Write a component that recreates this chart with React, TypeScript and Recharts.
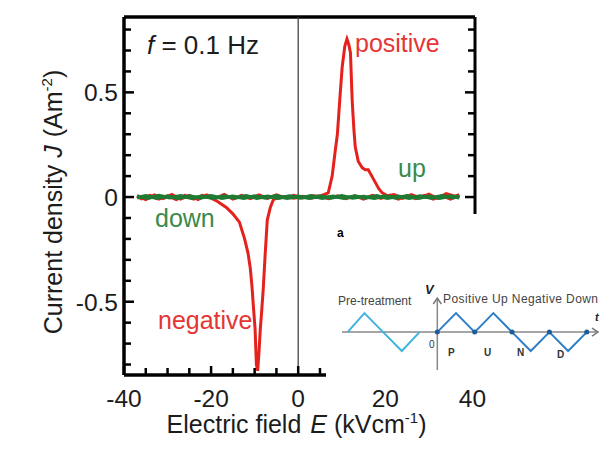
import { Line, LineChart, ReferenceDot, ReferenceLine, XAxis, YAxis } from 'recharts'

// E (kV/cm), J (A/m^2)
const positiveSweep: [number, number][] = [
  [-37, 0.005], [-35, -0.012], [-33, 0.01], [-31, -0.008], [-29, 0.012], [-27, -0.01],
  [-25, 0.008], [-23, -0.012], [-21, 0.01], [-19, -0.006], [-17, 0.012], [-15, -0.01],
  [-13, 0.008], [-11, -0.008], [-9, 0.01], [-7, -0.006], [-5, 0.01], [-3, -0.004],
  [-1, 0.008], [1, -0.004], [3, 0.006], [5, 0.004], [6.9, 0.02], [7.8, 0.1], [8.5, 0.22],
  [9.0, 0.3], [9.6, 0.48], [10.1, 0.62], [10.7, 0.72], [11.2, 0.755], [11.6, 0.73],
  [12.0, 0.69], [12.4, 0.46], [12.8, 0.32], [13.1, 0.24], [13.8, 0.17], [14.7, 0.14],
  [15.4, 0.13], [16.1, 0.13], [16.9, 0.1], [17.7, 0.07], [18.5, 0.04], [19.3, 0.02],
  [20.5, 0.006], [22, 0.012], [24, -0.006], [26, 0.012], [28, -0.004], [30, 0.014],
  [32, -0.006], [34, 0.016], [36, 0.004], [37, 0.012],
]

const negativeSweep: [number, number][] = [
  [37, 0.008], [35, -0.01], [33, 0.006], [31, -0.01], [29, 0.008], [27, -0.008],
  [25, 0.006], [23, -0.01], [21, 0.008], [19, -0.006], [17, 0.008], [15, -0.01],
  [13, 0.006], [11, -0.008], [9, 0.006], [7, -0.008], [5, 0.004], [3, -0.006],
  [1, 0.004], [-1, -0.006], [-3, 0.002], [-5, -0.006], [-5.7, -0.012], [-6.4, -0.05],
  [-7.1, -0.11], [-7.6, -0.28], [-8.0, -0.43], [-8.4, -0.55], [-8.7, -0.63], [-9.0, -0.74],
  [-9.3, -0.83], [-9.6, -0.8], [-9.9, -0.63], [-10.3, -0.52], [-10.6, -0.43], [-11.0, -0.34],
  [-11.5, -0.27], [-12.3, -0.2], [-13.5, -0.12], [-15, -0.08], [-16.5, -0.05], [-18.6, -0.02],
  [-20, -0.005], [-22, 0.008], [-24, -0.01], [-26, 0.008], [-28, -0.012], [-30, 0.006],
  [-32, -0.01], [-34, 0.008], [-36, -0.008], [-37, 0.004],
]

const upSweep: [number, number][] = [
  [-37, 0.004], [-34.5, -0.006], [-32, 0.007], [-29.5, -0.003], [-27, 0.006], [-24.5, -0.005],
  [-22, 0.004], [-19.5, -0.006], [-17, 0.005], [-14.5, -0.004], [-12, 0.006], [-9.5, -0.005],
  [-7, 0.004], [-4.5, -0.006], [-2, 0.005], [0.5, -0.004], [3, 0.006], [5.5, -0.005],
  [8, 0.004], [10.5, -0.006], [13, 0.005], [15.5, -0.004], [18, 0.006], [20.5, -0.005],
  [23, 0.004], [25.5, -0.006], [28, 0.005], [30.5, -0.004], [33, 0.006], [35.5, -0.003],
  [37, 0.004],
]

const downSweep: [number, number][] = [
  [37, -0.003], [35, 0.005], [32.5, -0.006], [30, 0.004], [27.5, -0.005], [25, 0.006],
  [22.5, -0.004], [20, 0.005], [17.5, -0.006], [15, 0.003], [12.5, -0.005], [10, 0.006],
  [7.5, -0.004], [5, 0.005], [2.5, -0.006], [0, 0.004], [-2.5, -0.005], [-5, 0.006],
  [-7.5, -0.004], [-10, 0.005], [-12.5, -0.006], [-15, 0.004], [-17.5, -0.005], [-20, 0.006],
  [-22.5, -0.004], [-25, 0.005], [-27.5, -0.006], [-30, 0.004], [-32.5, -0.005], [-35, 0.006],
  [-37, -0.003],
]

const X_TICKS = [-40, -35, -30, -25, -20, -15, -10, -5, 0, 5, 10, 15, 20, 25, 30, 35, 40]
const X_LABELS = [-40, -20, 0, 20, 40]
const Y_TICKS = [-0.8, -0.7, -0.6, -0.5, -0.4, -0.3, -0.2, -0.1, 0, 0.1, 0.2, 0.3, 0.4, 0.5, 0.6, 0.7, 0.8]
const Y_LABELS = [-0.5, 0, 0.5]

// inset waveform: t in quarter periods, V in amplitudes
const preTreatment: [number, number][] = [[-4.8, 0], [-3.9, 1], [-2.9, 0], [-1.9, -1], [-0.95, 0]]
const pund: [number, number][] = [[0, 0], [1, 1], [2, 0], [3, 1], [4, 0], [5, -1], [6, 0], [7, -1], [8, 0]]

const X_DOMAIN: [number, number] = [-40, 40.6]
const Y_DOMAIN: [number, number] = [-0.85, 0.86]
const T_DOMAIN: [number, number] = [-5.1, 8.6]
const V_DOMAIN: [number, number] = [-2, 1.8]

const FONT = '"Liberation Sans", Arial, sans-serif'
const INK = '#1c1c1c'
const RED = '#e5211d'
const GREEN = '#1f7a34'

const toRows = (pts: [number, number][]) => pts.map(([E, J]) => ({ E, J }))
const toWave = (pts: [number, number][]) => pts.map(([t, v]) => ({ t, v }))

function BottomTick({ x, y, payload }: any) {
  const labelled = X_LABELS.includes(payload.value)
  return (
    <g>
      <line x1={x} x2={x} y1={y} y2={y - (labelled ? 9 : 7)} stroke="#000" strokeWidth={2.5} />
      {labelled && (
        <text x={x} y={y + 32} textAnchor="middle" fontSize={24.5} fontFamily={FONT} fill={INK}>
          {payload.value}
        </text>
      )}
    </g>
  )
}

function LeftTick({ x, y, payload }: any) {
  const labelled = Y_LABELS.includes(payload.value)
  return (
    <g>
      <line x1={x} x2={x + (labelled ? 10 : 7)} y1={y} y2={y} stroke="#000" strokeWidth={2.5} />
      {labelled && (
        <text x={x - 6} y={y + 9} textAnchor="end" fontSize={24.5} fontFamily={FONT} fill={INK}>
          {payload.value}
        </text>
      )}
    </g>
  )
}

function RightTick({ x, y, payload }: any) {
  const major = Y_LABELS.includes(payload.value)
  return <line x1={x} x2={x - (major ? 10 : 7)} y1={y} y2={y} stroke="#000" strokeWidth={2.5} />
}

function XTitle({ viewBox }: any) {
  return (
    <text x={viewBox.x + viewBox.width / 2 - 3} y={viewBox.y + 58} textAnchor="middle" fontSize={25} fontFamily={FONT} fill={INK}>
      Electric field
      <tspan dx={9} fontStyle="italic">E</tspan>
      <tspan> (kVcm</tspan>
      <tspan dy={-10} fontSize={15}>-1</tspan>
      <tspan dy={10}>)</tspan>
    </text>
  )
}

function YTitle({ viewBox }: any) {
  const cx = viewBox.x - 2
  const cy = viewBox.y + viewBox.height / 2 + 6
  return (
    <text x={cx} y={cy} transform={`rotate(-90, ${cx}, ${cy})`} textAnchor="middle" fontSize={25} fontFamily={FONT} fill={INK}>
      Current density
      <tspan dx={7} fontStyle="italic">J</tspan>
      <tspan dx={8}>(Am</tspan>
      <tspan dy={-10} fontSize={15}>-2</tspan>
      <tspan dy={10}>)</tspan>
    </text>
  )
}

const labelStyle = (left: number, top: number, color: string, size = 25): React.CSSProperties => ({
  position: 'absolute',
  left,
  top,
  color,
  fontSize: size,
  fontFamily: FONT,
  lineHeight: 1,
  whiteSpace: 'nowrap',
})

function ArrowRight({ cx, cy }: any) {
  return <path d={`M${cx - 6},${cy - 4} L${cx},${cy} L${cx - 6},${cy + 4}`} fill="none" stroke="#777" strokeWidth={1.5} />
}

function ArrowUp({ cx, cy }: any) {
  return <path d={`M${cx - 4},${cy + 6} L${cx},${cy} L${cx + 4},${cy + 6}`} fill="none" stroke="#777" strokeWidth={1.5} />
}

function Inset() {
  return (
    <div style={{ position: 'absolute', left: 332, top: 280 }}>
      <LineChart width={269} height={100} margin={{ top: 18, right: 3, bottom: 10, left: 10 }}>
        <XAxis type="number" dataKey="t" domain={T_DOMAIN} hide allowDataOverflow />
        <YAxis type="number" domain={V_DOMAIN} hide allowDataOverflow />
        <ReferenceLine y={0} stroke="#888" strokeWidth={1.5} />
        <ReferenceLine x={0} stroke="#888" strokeWidth={1.5} />
        <ReferenceDot x={T_DOMAIN[1]} y={0} shape={<ArrowRight />} />
        <ReferenceDot x={0} y={V_DOMAIN[1]} shape={<ArrowUp />} />
        <Line data={toWave(preTreatment)} dataKey="v" stroke="#3fb3df" strokeWidth={2} dot={false} isAnimationActive={false} />
        <Line
          data={toWave(pund)}
          dataKey="v"
          stroke="#2f7fc8"
          strokeWidth={2}
          isAnimationActive={false}
          dot={(p: any) =>
            p.payload.v === 0 ? (
              <circle key={`d${p.index}`} cx={p.cx} cy={p.cy} r={2.5} fill="#1d5c99" />
            ) : (
              <g key={`d${p.index}`} />
            )
          }
        />
      </LineChart>
      <div style={labelStyle(6, 15, '#444', 12)}>Pre-treatment</div>
      <div style={{ ...labelStyle(93, 3, '#222', 13), fontWeight: 'bold', fontStyle: 'italic' }}>V</div>
      <div style={{ ...labelStyle(111, 13, '#444', 12), letterSpacing: 0.4 }}>Positive Up Negative Down</div>
      <div style={labelStyle(97, 60, '#333', 10)}>0</div>
      <div style={{ ...labelStyle(263, 32, '#222', 11), fontWeight: 'bold', fontStyle: 'italic' }}>t</div>
      <div style={{ ...labelStyle(116, 68, '#333', 10), fontWeight: 'bold' }}>P</div>
      <div style={{ ...labelStyle(152, 68, '#333', 10), fontWeight: 'bold' }}>U</div>
      <div style={{ ...labelStyle(185, 68, '#333', 10), fontWeight: 'bold' }}>N</div>
      <div style={{ ...labelStyle(225, 70, '#333', 10), fontWeight: 'bold' }}>D</div>
    </div>
  )
}

export default function App() {
  return (
    <div style={{ position: 'absolute', left: 0, top: 0, width: 601, height: 450, background: '#fff' }}>
      <LineChart width={601} height={450} margin={{ top: 17, right: 125, bottom: 35, left: 64 }}>
        <XAxis
          type="number"
          dataKey="E"
          domain={X_DOMAIN}
          ticks={X_TICKS}
          interval={0}
          allowDataOverflow
          height={40}
          tickSize={0}
          tickMargin={0}
          tickLine={false}
          tick={<BottomTick />}
          axisLine={{ stroke: '#000', strokeWidth: 3.5 }}
          label={<XTitle />}
        />
        <YAxis
          type="number"
          domain={Y_DOMAIN}
          ticks={Y_TICKS}
          interval={0}
          allowDataOverflow
          width={60}
          tickSize={0}
          tickMargin={0}
          tickLine={false}
          tick={<LeftTick />}
          axisLine={{ stroke: '#000', strokeWidth: 3.5 }}
          label={<YTitle />}
        />
        <YAxis
          yAxisId="right"
          orientation="right"
          type="number"
          domain={Y_DOMAIN}
          ticks={Y_TICKS}
          interval={0}
          allowDataOverflow
          width={1}
          tickSize={0}
          tickMargin={0}
          tickLine={false}
          tick={<RightTick />}
          axisLine={{ stroke: '#000', strokeWidth: 3 }}
        />
        <ReferenceLine y={Y_DOMAIN[1]} stroke="#000" strokeWidth={3.5} />
        <ReferenceLine x={0} stroke="#444" strokeWidth={1.3} />
        <Line data={toRows(positiveSweep)} dataKey="J" stroke={RED} strokeWidth={3} dot={false} isAnimationActive={false} />
        <Line data={toRows(negativeSweep)} dataKey="J" stroke={RED} strokeWidth={3} dot={false} isAnimationActive={false} />
        <Line data={toRows(upSweep)} dataKey="J" stroke={GREEN} strokeWidth={3.5} dot={false} isAnimationActive={false} />
        <Line data={toRows(downSweep)} dataKey="J" stroke={GREEN} strokeWidth={3.5} dot={false} isAnimationActive={false} />
      </LineChart>

      <div style={labelStyle(147, 32, INK, 26)}>
        <i>f</i> = 0.1 Hz
      </div>
      <div style={labelStyle(355, 31, '#e53535')}>positive</div>
      <div style={labelStyle(398, 156, '#3a8a4c')}>up</div>
      <div style={labelStyle(155, 206, '#3a8a4c')}>down</div>
      <div style={labelStyle(158, 308, '#e53535')}>negative</div>

      {/* the waveform inset sits on a white patch over the lower right of the frame */}
      <div style={{ position: 'absolute', left: 326, top: 214, width: 275, height: 168, background: '#fff' }} />
      <div style={{ ...labelStyle(337, 227, '#000', 12), fontWeight: 'bold' }}>a</div>
      <Inset />
    </div>
  )
}
